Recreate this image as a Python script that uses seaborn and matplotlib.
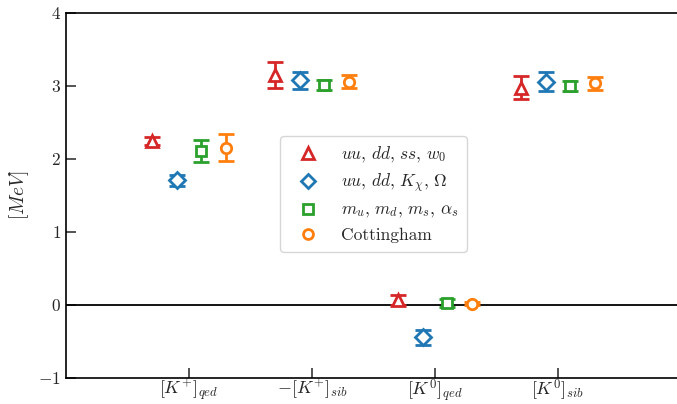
import numpy as np
import matplotlib
matplotlib.use("Agg")
import matplotlib.pyplot as plt
from matplotlib.lines import Line2D
import seaborn as sns

# Quantities on the x axis
categories = [r"$[K^{+}]_{qed}$", r"$-[K^{+}]_{sib}$", r"$[K^{0}]_{qed}$", r"$[K^{0}]_{sib}$"]

# Central values and uncertainties (MeV) for each determination
series_labels = [r"$uu,\,dd,\,ss,\,w_0$",
                 r"$uu,\,dd,\,K_\chi,\,\Omega$",
                 r"$m_u,\,m_d,\,m_s,\,\alpha_s$",
                 "Cottingham"]
red_vals = [2.24, 3.14, 0.06, 2.97]
red_errs = [0.06, 0.18, 0.07, 0.16]
blue_vals = [1.70, 3.07, -0.45, 3.05]
blue_errs = [0.08, 0.12, 0.10, 0.13]
green_vals = [2.10, 3.01, 0.02, 2.99]
green_errs = [0.15, 0.07, 0.06, 0.07]
orange_vals = [2.15, 3.05, 0.01, 3.03]
orange_errs = [0.18, 0.09, 0.02, 0.09]

y_ticks = [-1, 0, 1, 2, 3, 4]

sns.set_style("ticks")
plt.rcParams["font.family"] = ["cmr10", "DejaVu Sans"]
plt.rcParams["mathtext.fontset"] = "cm"
plt.rcParams["axes.formatter.use_mathtext"] = True
plt.rcParams["axes.unicode_minus"] = True

fig = plt.figure(figsize=(6.77, 4.04), dpi=100)
ax = fig.add_axes([66 / 677, 1 - 377.5 / 404, 615 / 677, 365 / 404])

palette = sns.color_palette("tab10")
styles = [
    (red_vals, red_errs, "^", palette[3], 8.5),
    (blue_vals, blue_errs, "D", palette[0], 8),
    (green_vals, green_errs, "s", palette[2], 7.5),
    (orange_vals, orange_errs, "o", palette[1], 7.5),
]
offsets = [-0.3, -0.1, 0.1, 0.3]
pos = np.arange(1, len(categories) + 1)

ax.axhline(0, color="black", lw=1.3, zorder=1)

handles = []
for (vals, errs, mk, col, ms), off, lab in zip(styles, offsets, series_labels):
    ax.errorbar(pos + off, vals, yerr=errs, fmt=mk, color=col, mfc="white",
                mec=col, mew=2, ms=ms, elinewidth=2, capsize=6, capthick=2,
                zorder=3)
    handles.append(Line2D([], [], ls="none", marker=mk, mfc="white", mec=col,
                          mew=2, ms=ms * 0.95, label=lab))

ax.set_xlim(0, 5)
ax.set_ylim(-1, 4)
ax.set_xticks(pos)
ax.set_xticklabels(categories, fontsize=13)
ax.set_yticks(y_ticks)
ax.tick_params(axis="y", labelsize=12.5)
ax.tick_params(axis="x", pad=0)
ax.tick_params(direction="in", length=7, width=1.1)
ax.set_ylabel(r"$[MeV]$", fontsize=14, labelpad=5)

for side in ["left", "bottom", "top"]:
    ax.spines[side].set_linewidth(1.2)
    ax.spines[side].set_color("black")
ax.spines["right"].set_visible(False)

leg = ax.legend(handles=handles, loc="center", bbox_to_anchor=(0.5, 0.503),
                fontsize=12.5, frameon=True, handlelength=2.2, handletextpad=0.8,
                borderpad=0.5, labelspacing=0.42)
leg.get_frame().set_edgecolor("#cccccc")

fig.savefig("out.png", dpi=100)
